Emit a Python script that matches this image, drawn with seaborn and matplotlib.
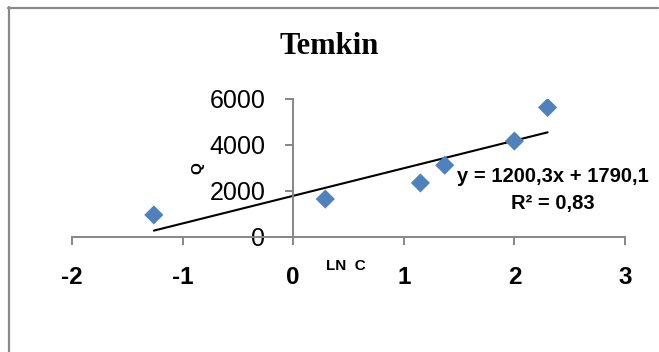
import numpy as np
import pandas as pd
import matplotlib
matplotlib.use("Agg")
import matplotlib.pyplot as plt
import seaborn as sns
from matplotlib.lines import Line2D

# ---- data ----
ln_c = [-1.26, 0.29, 1.15, 1.37, 2.00, 2.30]
q = [960, 1650, 2350, 3120, 4170, 5630]
slope = 1200.3
intercept = 1790.1
r2 = 0.83
x_ticks = [-2, -1, 0, 1, 2, 3]
y_ticks = [0, 2000, 4000, 6000]
title = "Temkin"
x_label = "LN  C"
y_label = "Q"

sns.set_theme(style="white")
plt.rcParams["font.family"] = ["Liberation Sans", "DejaVu Sans"]
plt.rcParams["axes.unicode_minus"] = False
plt.rcParams["text.color"] = "black"
plt.rcParams["xtick.labelcolor"] = "black"
plt.rcParams["ytick.labelcolor"] = "black"

W, H = 659, 352
fig = plt.figure(figsize=(W / 100, H / 100), dpi=100)
fig.patch.set_facecolor("white")

ax = fig.add_axes([72 / W, 1 - 237 / H, (625 - 72) / W, (237 - 99) / H])
ax.set_facecolor("none")

df = pd.DataFrame({"ln_c": ln_c, "q": q})
xs = np.array([min(ln_c), max(ln_c)])
sns.lineplot(x=xs, y=slope * xs + intercept, color="black", linewidth=1.5,
             ax=ax, zorder=2)
sns.scatterplot(data=df, x="ln_c", y="q", marker="D", s=95, color="#4F81BD",
                edgecolor="none", linewidth=0, ax=ax, zorder=3)

ax.set_xlim(-2, 3)
ax.set_ylim(0, 6000)
ax.set_xlabel("")
ax.set_ylabel("")

gray = "#868686"
for s in ["top", "right"]:
    ax.spines[s].set_visible(False)
ax.spines["left"].set_position(("data", 0))
ax.spines["bottom"].set_position(("data", 0))
for s in ["left", "bottom"]:
    ax.spines[s].set_color(gray)
    ax.spines[s].set_linewidth(1.4)

ax.set_xticks(x_ticks)
ax.set_xticklabels([str(t) for t in x_ticks], fontweight="bold", fontsize=17.5,
                   color="black")
ax.set_yticks(y_ticks)
ax.set_yticklabels([str(t) for t in y_ticks], fontsize=18, color="black")
ax.tick_params(axis="x", bottom=True, direction="out", length=6, width=1.4,
               color=gray, pad=15)
ax.tick_params(axis="y", left=True, direction="out", length=6, width=1.4,
               color=gray, pad=14)

# title and labels
fig.text(329 / W, 1 - 47 / H, title, ha="center", va="center", fontsize=22,
         fontweight="bold", color="black", family=["Liberation Serif", "DejaVu Serif"])
fig.text(197 / W, 1 - 168 / H, y_label, ha="center", va="center", fontsize=11,
         fontweight="bold", rotation=90, color="black")
fig.text(346 / W, 1 - 266 / H, x_label, ha="center", va="center", fontsize=11,
         fontweight="bold", color="black")

fig.text(553 / W, 1 - 177 / H, f"y = {slope:.1f}x + {intercept:.1f}".replace(".", ","),
         ha="center", va="center", fontsize=14.5, fontweight="bold", color="black")
fig.text(553 / W, 1 - 203 / H, f"R² = {r2:.2f}".replace(".", ","),
         ha="center", va="center", fontsize=14.5, fontweight="bold", color="black")

# chart area border (left and top only visible)
fig.add_artist(Line2D([8.5 / W, 8.5 / W], [1 - 7 / H, 0], color="#898989",
                      linewidth=1.6, transform=fig.transFigure))
fig.add_artist(Line2D([8 / W, 658 / W], [1 - 7.5 / H, 1 - 7.5 / H], color="#898989",
                      linewidth=1.6, transform=fig.transFigure))

fig.savefig("out.png", dpi=100)
